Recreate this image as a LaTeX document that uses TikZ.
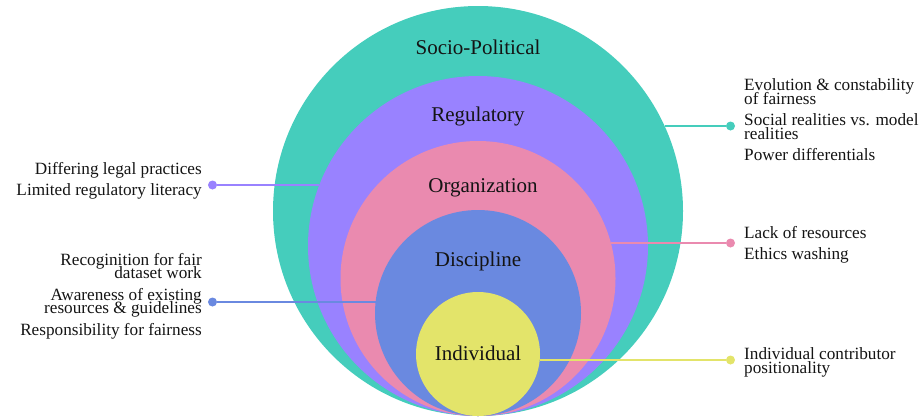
\documentclass[tikz,border=0pt]{standalone}
\usepackage{fontspec}
\usetikzlibrary{calc}
\setmainfont{Liberation Serif}
\definecolor{cTeal}{RGB}{69,205,188}
\definecolor{cPurple}{RGB}{153,130,255}
\definecolor{cPink}{RGB}{234,138,175}
\definecolor{cBlue}{RGB}{106,137,224}
\definecolor{cYellow}{RGB}{227,228,106}
\definecolor{cText}{RGB}{20,20,20}
\newcommand{\itemgap}{\noalign{\vskip7.5pt}}
\newcommand{\rblock}[1]{\vtop{\baselineskip=13.8pt\lineskiplimit=-50pt\lineskip=0pt\halign{\hfil##\cr#1\crcr}}}
\newcommand{\lblock}[1]{\vtop{\baselineskip=13.8pt\lineskiplimit=-50pt\lineskip=0pt\halign{##\hfil\cr#1\crcr}}}
\begin{document}
\begin{tikzpicture}[x=1pt,y=-1pt,
  ring/.style={circle, inner sep=0pt, outer sep=0pt, draw=none},
  lvl/.style={font=\fontsize{21}{25}\selectfont, text=cText, anchor=base, inner sep=0pt},
  note/.style={font=\fontsize{17.2}{14}\selectfont, text=cText, inner sep=0pt},
  endpt/.style={circle, inner sep=0pt, outer sep=0pt, minimum size=9pt},
  link/.style={line width=2pt}]
\useasboundingbox (0,0) rectangle (920,416);
% circles
\node[ring, fill=cTeal, minimum size=410pt] (sp) at (478,211) {};
\node[ring, fill=cPurple, minimum size=340pt] (reg) at (478,246) {};
\node[ring, fill=cPink, minimum size=275pt] (org) at (478,278.5) {};
\node[ring, fill=cBlue, minimum size=206pt] (dis) at (478,313) {};
\node[ring, fill=cYellow, minimum size=124pt] (ind) at (478,354) {};
% circle labels
\node[lvl] (spl) at (478,54.3) {Socio-Political};
\node[lvl] (regl) at (478,121.7) {Regulatory};
\node[lvl] (orgl) at (483,192.7) {Organization};
\node[lvl] (disl) at (478,266.7) {Discipline};
\node[lvl] (indl) at (478,360) {Individual};
% points on the circle borders
\coordinate (ereg) at ($(reg.center)+(-158.68,-61)$);
\coordinate (edis) at ($(dis.center)+(-102.41,-11)$);
\coordinate (esp)  at ($(sp.center)+(186.55,-85)$);
\coordinate (eorg) at ($(org.center)+(132.84,-35.5)$);
\coordinate (eind) at ($(ind.center)+(61.71,6)$);
% end dots
\node[endpt, fill=cPurple] (dreg) at (212.5,185) {};
\node[endpt, fill=cBlue] (ddis) at (212.5,302) {};
\node[endpt, fill=cTeal] (dsp) at (730.5,126) {};
\node[endpt, fill=cPink] (dorg) at (730.5,243) {};
\node[endpt, fill=cYellow] (dind) at (730.5,360) {};
% connectors
\draw[link, cPurple] (ereg) -- (dreg);
\draw[link, cBlue] (edis) -- (ddis);
\draw[link, cTeal] (esp) -- (dsp);
\draw[link, cPink] (eorg) -- (dorg);
\draw[link, cYellow] (eind) -- (dind);
% texts
\node[note, anchor=base east] (treg) at (202,174) {\rblock{Differing legal practices\cr\itemgap Limited regulatory literacy}};
\node[note, anchor=base east] (tdis) at (202,265) {\rblock{Recoginition for fair\cr dataset work\cr\itemgap Awareness of existing\cr resources \& guidelines\cr\itemgap Responsibility for fairness}};
\node[note, anchor=base west] (tsp) at (744,90.7) {\lblock{Evolution \& constability\cr of fairness\cr\itemgap Social realities vs. model\cr realities\cr\itemgap Power differentials}};
\node[note, anchor=base west] (torg) at (744,238.3) {\lblock{Lack of resources\cr\itemgap Ethics washing}};
\node[note, anchor=base west] (tind) at (744,359.3) {\lblock{Individual contributor\cr positionality}};
\end{tikzpicture}
\end{document}
